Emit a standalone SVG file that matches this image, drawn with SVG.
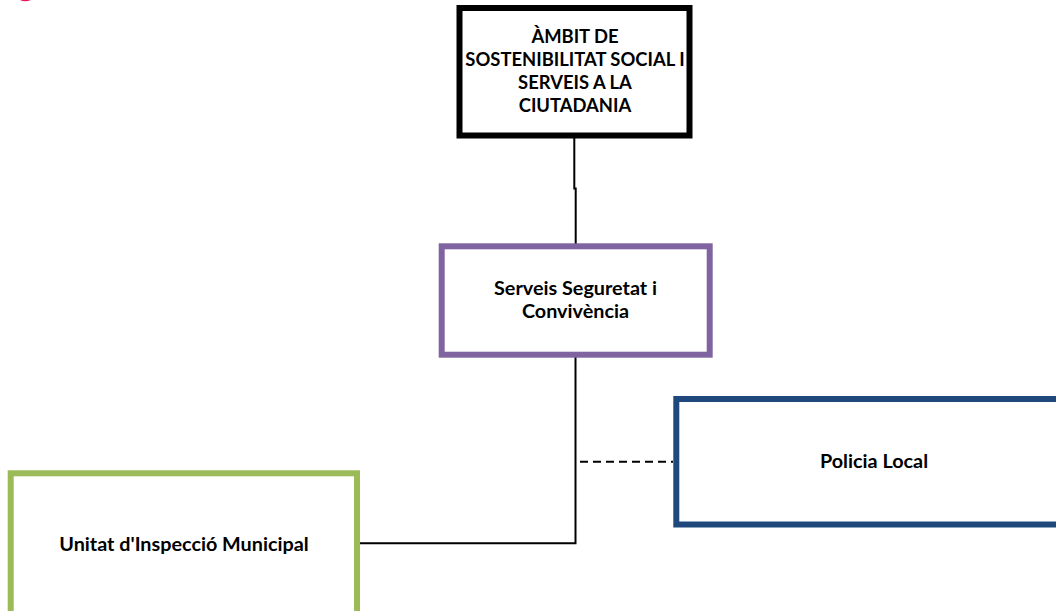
<svg xmlns="http://www.w3.org/2000/svg" width="1056" height="611" viewBox="0 0 1056 611">
<style>
.box{fill:#fff;stroke-width:6}
.t{font-family:Lato,"Liberation Sans",sans-serif;font-weight:bold;font-size:19.8px;fill:#000;text-anchor:middle}
.h{font-size:18.4px}
.c{fill:none;stroke:#000;stroke-width:2}
</style>
<rect width="1056" height="611" fill="#fff"/>
<path d="M20 0 Q25 2.5 31 0 Z" fill="#E8175D"/>
<g id="connectors">
<path class="c" d="M574.3 137 V188.5 H575.7 V244"/>
<path class="c" d="M575.5 357 V543.3 H360"/>
<path class="c" d="M580 461.7 H673" stroke-dasharray="8 5"/>
</g>
<g id="ambit">
<rect class="box" x="459.5" y="8" width="230" height="127.5" stroke="#000"/>
<text class="t h" x="575" y="43">ÀMBIT DE</text>
<text class="t h" x="575" y="66">SOSTENIBILITAT SOCIAL I</text>
<text class="t h" x="575" y="89">SERVEIS A LA</text>
<text class="t h" x="575" y="112">CIUTADANIA</text>
</g>
<g id="serveis">
<rect class="box" x="441.7" y="246.3" width="268" height="108.4" stroke="#8064A2"/>
<text class="t" x="575.5" y="295">Serveis Seguretat i</text>
<text class="t" x="575.5" y="318">Convivència</text>
</g>
<g id="policia">
<rect class="box" x="676.3" y="399" width="395.4" height="125.5" stroke="#1F497D"/>
<text class="t" x="874" y="468">Policia Local</text>
</g>
<g id="unitat">
<rect class="box" x="10.7" y="473.3" width="346.3" height="160" stroke="#9BBB59"/>
<text class="t" x="184" y="551">Unitat d'Inspecció Municipal</text>
</g>
</svg>
